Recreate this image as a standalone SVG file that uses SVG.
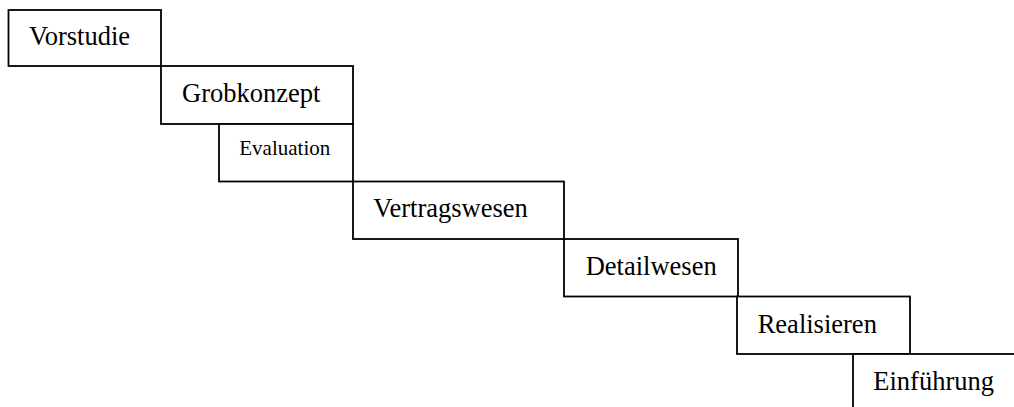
<svg xmlns="http://www.w3.org/2000/svg" width="1014" height="407" viewBox="0 0 1014 407">
<style>
.box{fill:#fff;stroke:#000;stroke-width:1.8}
.t{font-family:"Liberation Serif","Times New Roman",serif;font-size:26.5px;fill:#000}
.s{font-size:21px}
</style>
<rect width="1014" height="407" fill="#fff"/>
<g id="vorstudie"><rect class="box" x="8.5" y="10" width="152.5" height="56"/><text class="t" x="29" y="45">Vorstudie</text></g>
<g id="grobkonzept"><rect class="box" x="161" y="66" width="192" height="58"/><text class="t" x="182" y="102.3">Grobkonzept</text></g>
<g id="evaluation"><rect class="box" x="219" y="124" width="134" height="57.5"/><text class="t s" x="239.3" y="155">Evaluation</text></g>
<g id="vertragswesen"><rect class="box" x="353" y="181.5" width="211" height="57.5"/><text class="t" x="373.3" y="216.7">Vertragswesen</text></g>
<g id="detailwesen"><rect class="box" x="564" y="239" width="174" height="57.5"/><text class="t" x="585.7" y="275">Detailwesen</text></g>
<g id="realisieren"><rect class="box" x="737" y="296.5" width="173" height="57.5"/><text class="t" x="757.7" y="332.7">Realisieren</text></g>
<g id="einfuehrung"><rect class="box" x="853" y="354" width="200" height="80"/><text class="t" x="873.3" y="390">Einführung</text></g>
<g id="connectors"></g>
</svg>
